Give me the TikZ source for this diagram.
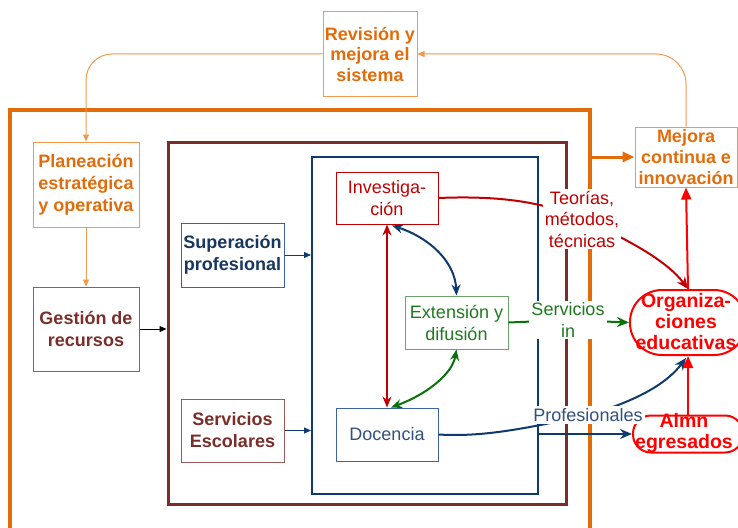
\documentclass[tikz,border=0pt]{standalone}
\usepackage{fontspec}
\setmainfont{Liberation Sans}
\usetikzlibrary{arrows.meta,calc}

\definecolor{orD}{HTML}{E36C0A}
\definecolor{orL}{HTML}{EE9A50}
\definecolor{brD}{HTML}{7A2E2A}
\definecolor{brL}{HTML}{9A5A58}
\definecolor{blD}{HTML}{0E3A6E}
\definecolor{blT}{HTML}{17375E}
\definecolor{blL}{HTML}{3C64A0}
\definecolor{rdD}{HTML}{C00000}
\definecolor{rdB}{HTML}{FF0000}
\definecolor{grD}{HTML}{0A700A}
\definecolor{grT}{HTML}{1E7A1E}
\definecolor{grL}{HTML}{6BA36B}

\begin{document}
\begin{tikzpicture}[x=1pt,y=-1pt,
  every node/.style={inner sep=0pt,align=center,font=\fontsize{18}{22}\selectfont},
  bigfont/.style={font=\fontsize{19.5}{21}\selectfont\bfseries},
  bx/.style={draw,line width=1pt},
  orbox/.style={bx,draw=orL,text=orD,font=\fontsize{18}{22}\selectfont\bfseries},
  brbox/.style={bx,draw=brL,text=brD,font=\fontsize{18}{22}\selectfont\bfseries},
  frame/.style={draw,line width=#1},
  tag/.style={fill=white,inner sep=2pt,font=\fontsize{18}{21.5}\selectfont},
  smalltip/.style={-{Triangle[length=7pt,width=6pt]}},
  bigtip/.style={-{Triangle[length=12pt,width=10pt]}},
  dbl/.style={line width=2pt,{Stealth[length=11pt,width=9pt]}-{Stealth[length=11pt,width=9pt]}},
  redtip/.style={-{Stealth[length=12pt,width=10pt]}}
]
\useasboundingbox (0,0) rectangle (738,527);

% outer system frame (open at the bottom)
\coordinate (oframeTR) at (590,110);
\draw[orD,line width=3.5pt] (10,530) -- (10,110) -- (oframeTR) -- (590,530);

% inner frames
\node[frame=3pt,draw=brD,minimum width=398pt,minimum height=362pt] (brframe) at (367,323) {};
\node[frame=2pt,draw=blD,minimum width=226pt,minimum height=337pt] (blframe) at (425,325.5) {};

% boxes
\node[orbox,minimum width=94pt,minimum height=84pt,font=\fontsize{18}{20.5}\selectfont\bfseries] (revision) at (370,54) {Revisión y\\mejora el\\sistema};
\node[orbox,minimum width=106pt,minimum height=85pt] (planeacion) at (86,184.5) {Planeación\\estratégica\\y operativa};
\node[brbox,minimum width=106pt,minimum height=84pt] (gestion) at (86,329) {Gestión de\\recursos};
\node[bx,draw=blL,text=blT,font=\fontsize{18}{22}\selectfont\bfseries,minimum width=103pt,minimum height=64pt] (superacion) at (232.5,255) {Superación\\profesional};
\node[brbox,minimum width=103pt,minimum height=63pt] (servesc) at (232.5,430.5) {Servicios\\Escolares};
\node[bx,draw=rdD,text=rdD,minimum width=102pt,minimum height=52pt] (inv) at (387,198) {Investiga-\\ción};
\node[bx,draw=grL,text=grT,minimum width=103pt,minimum height=53pt] (ext) at (456.5,322.5) {Extensión y\\difusión};
\node[bx,draw=blL,text=blL!80!black,minimum width=102pt,minimum height=53pt] (doc) at (387,434.5) {Docencia};
\node[orbox,minimum width=102pt,minimum height=60pt,font=\fontsize{18}{21}\selectfont\bfseries] (mejora) at (686,157) {Mejora\\continua e\\innovación};

% rounded outcome boxes and their texts
\node[draw=rdB,line width=2pt,rounded corners=32pt,minimum width=116pt,minimum height=65pt] (orgbox) at (688,322.5) {};
\node[bigfont,text=rdB] (orgtext) at (686,322) {Organiza-\\ciones\\educativas};
\node[draw=rdB,line width=2pt,rounded corners=18pt,minimum width=110pt,minimum height=37pt] (almnbox) at (688,434) {};
\node[bigfont,text=rdB] (almntext) at (684,433) {Almn\\egresados};

% label positions
\coordinate (teoP) at (582,219);
\coordinate (servP) at (568,320);
\coordinate (profP) at (588,415);

% feedback loop
\draw[orL,line width=1pt,smalltip,rounded corners=30pt] (mejora.north) |- (revision.east);
\draw[orL,line width=1pt,smalltip,rounded corners=26pt] (revision.west) -| (planeacion.north);
\draw[orL,line width=1pt,smalltip] (planeacion.south) -- (gestion.north);
\draw[orD,line width=3pt,bigtip] (mejora.west -| oframeTR) -- (mejora.west);

% inputs into the frames
\draw[black,line width=1pt,smalltip] (gestion.east) -- (gestion.east -| brframe.west);
\draw[blD,line width=1pt,smalltip] (superacion.east) -- (superacion.east -| blframe.west);
\draw[blD,line width=1pt,smalltip] (servesc.east) -- (servesc.east -| blframe.west);

% relations between the three functions
\draw[rdD,dbl] (inv.south) -- (doc.north);
\draw[blD,dbl] ($(inv.south)+(5,1)$) .. controls (430,238) and (455,262) .. (ext.north);
\draw[grD,dbl] ($(doc.north)+(4,0)$) .. controls (425,395) and (452,375) .. (ext.south);

% outputs
\draw[rdD,line width=2pt,redtip] (inv.east) .. controls (510,195) and (550,205) .. (teoP)
   .. controls (630,240) and (668,262) .. (orgbox.north);
\draw[grD,line width=2pt,redtip] (ext.east) -- (servP) -- (orgbox.west);
\draw[blD,line width=2pt,redtip] (doc.east) .. controls (480,437) and (520,430) .. (profP)
   .. controls (640,400) and (668,382) .. ($(orgbox.south)+(-2,2)$);
\draw[blD,line width=2.5pt,redtip] (almnbox.west -| blframe.east) -- (almnbox.west);
\draw[rdB,line width=2pt,bigtip] (almnbox.north) -- (orgbox.south);
\draw[rdB,line width=2pt,bigtip] (orgbox.north) -- (mejora.south);

% connector labels
\node[tag,text=rdD] (teo) at (teoP) {Teorías,\\métodos,\\técnicas};
\node[tag,text=grT] (serv) at (servP) {Servicios\\in};
\node[tag,text=blL!80!black] (prof) at (profP) {Profesionales};
\end{tikzpicture}
\end{document}
